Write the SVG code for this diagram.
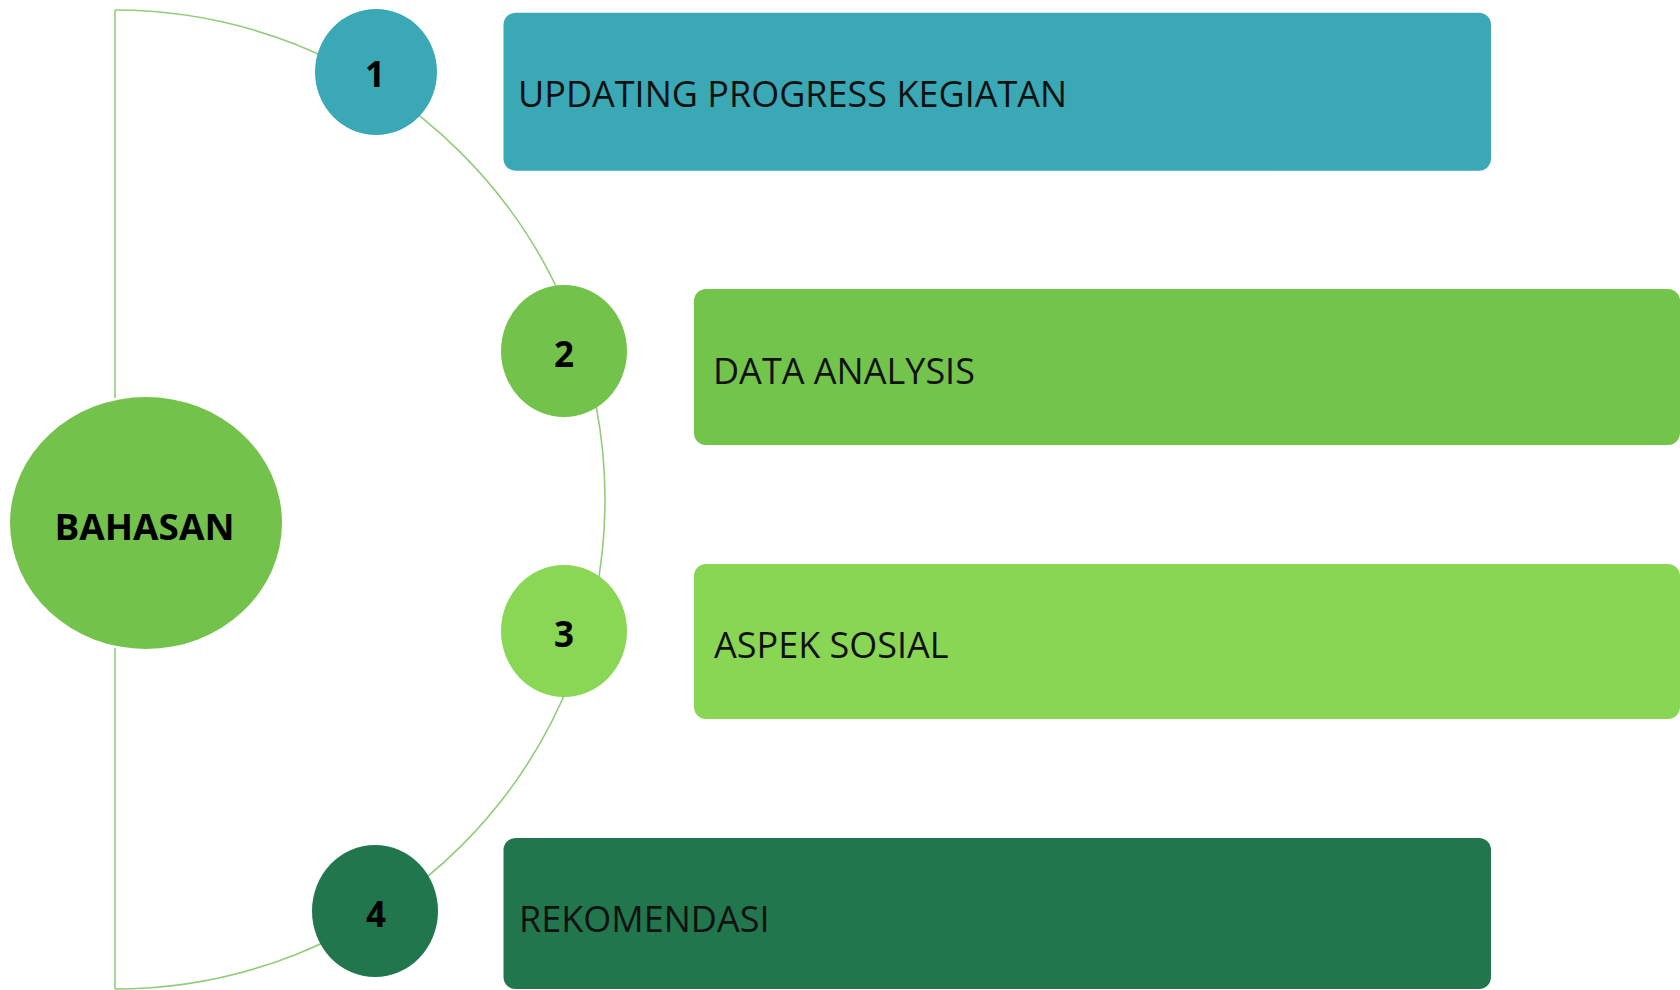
<svg xmlns="http://www.w3.org/2000/svg" width="1680" height="990" viewBox="0 0 1680 990">
<style>
.conn{fill:none;stroke:#92cc7a;stroke-width:1.6}
.lbl{font-family:"Open Sans","Noto Sans","Liberation Sans",sans-serif;font-size:36px;fill:#111}
.num{font-family:"Open Sans","Noto Sans","Liberation Sans",sans-serif;font-size:35px;font-weight:bold;fill:#000;text-anchor:middle}
</style>
<rect width="1680" height="990" fill="#ffffff"/>
<g id="connectors">
<path class="conn" d="M115,10 L115,398"/>
<path class="conn" d="M115,648 L115,989"/>
<path class="conn" d="M115,10 A490,489.5 0 0 1 115,989"/>
</g>
<g id="node-bahasan">
<ellipse cx="146" cy="523" rx="136" ry="126" fill="#73c24b"/>
<text class="num" x="144.5" y="540" textLength="180" lengthAdjust="spacingAndGlyphs">BAHASAN</text>
</g>
<g id="node-1">
<ellipse cx="376" cy="72" rx="61" ry="63" fill="#3aa8b5"/>
<text class="num" x="375" y="87">1</text>
</g>
<g id="node-2">
<ellipse cx="564" cy="351" rx="63" ry="66" fill="#73c24b"/>
<text class="num" x="564" y="367">2</text>
</g>
<g id="node-3">
<ellipse cx="564" cy="631" rx="63" ry="66" fill="#8ad655"/>
<text class="num" x="564" y="647">3</text>
</g>
<g id="node-4">
<ellipse cx="375" cy="911" rx="63" ry="66" fill="#21764e"/>
<text class="num" x="376" y="927">4</text>
</g>
<g id="box-1">
<rect x="503.5" y="12.7" width="987.5" height="158" rx="12" fill="#3aa8b5"/>
<text class="lbl" x="518" y="107">UPDATING PROGRESS KEGIATAN</text>
</g>
<g id="box-2">
<rect x="694" y="289" width="986" height="156" rx="12" fill="#73c44b"/>
<text class="lbl" x="713" y="383.5">DATA ANALYSIS</text>
</g>
<g id="box-3">
<rect x="694" y="564" width="986" height="155" rx="12" fill="#89d654"/>
<text class="lbl" x="714" y="658">ASPEK SOSIAL</text>
</g>
<g id="box-4">
<rect x="503.5" y="838" width="987.5" height="151" rx="12" fill="#21764d"/>
<text class="lbl" x="519" y="932">REKOMENDASI</text>
</g>
</svg>
